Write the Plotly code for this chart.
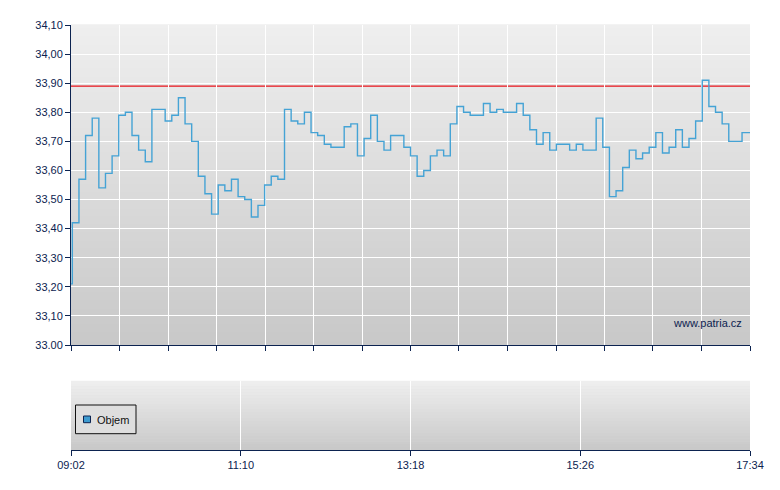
import plotly.graph_objects as go
import pandas as pd

# ---------------- data ----------------
day = "2024-01-01 "
open_times = ["09:02", "09:03"]
open_prices = [33.21, 33.42]
step_start = "09:08"          # then one price every 5 minutes
step_prices = [
    33.57, 33.72, 33.78, 33.54, 33.59, 33.65, 33.79, 33.80, 33.72, 33.67,
    33.63, 33.81, 33.81, 33.77, 33.79, 33.85, 33.76, 33.70, 33.58, 33.52,
    33.45, 33.55, 33.53, 33.57, 33.51, 33.50, 33.44, 33.48, 33.55, 33.58,
    33.57, 33.81, 33.77, 33.76, 33.80, 33.73, 33.72, 33.69, 33.68, 33.68,
    33.75, 33.76, 33.65, 33.71, 33.79, 33.70, 33.67, 33.72, 33.72, 33.68,
    33.65, 33.58, 33.60, 33.65, 33.67, 33.65, 33.76, 33.82, 33.80, 33.79,
    33.79, 33.83, 33.80, 33.81, 33.80, 33.80, 33.83, 33.79, 33.74, 33.69,
    33.73, 33.67, 33.69, 33.69, 33.67, 33.69, 33.67, 33.67, 33.78, 33.68,
    33.51, 33.53, 33.61, 33.67, 33.64, 33.66, 33.68, 33.73, 33.66, 33.68,
    33.74, 33.68, 33.71, 33.77, 33.91, 33.82, 33.80, 33.76, 33.70, 33.70,
    33.73,
]
close_time = "17:34"
ref_price = 33.89
y_tick_vals = [33.00, 33.10, 33.20, 33.30, 33.40, 33.50, 33.60, 33.70, 33.80, 33.90, 34.00, 34.10]
y_tick_text = ["33.00", "33,10", "33,20", "33,30", "33,40", "33,50", "33,60", "33,70",
               "33,80", "33,90", "34,00", "34,10"]
x_label_times = ["09:02", "11:10", "13:18", "15:26", "17:34"]
legend_name = "Objem"
watermark = "www.patria.cz"

# ---------------- build series ----------------
step_times = pd.date_range(day + step_start, periods=len(step_prices), freq="5min")
xs = [pd.Timestamp(day + t) for t in open_times] + list(step_times) + [pd.Timestamp(day + close_time)]
ys = open_prices + step_prices + [step_prices[-1]]

x_start = pd.Timestamp(day + x_label_times[0])
x_end = pd.Timestamp(day + x_label_times[-1])
top_grid = [t.round("s") for t in pd.date_range(x_start, x_end, periods=15)]

NAVY = "#0c2350"
OFF = 8                      # page body margin
W, H = 780 - OFF, 490 - OFF
px = lambda v: (v - OFF) / W
py = lambda v: 1 - (v - OFF) / H

fig = go.Figure()
fig.add_trace(go.Scatter(
    x=xs, y=ys, mode="lines", line=dict(color="#45a3d5", width=1.4, shape="hv"),
    xaxis="x", yaxis="y", showlegend=False, hoverinfo="x+y"))
# empty volume pane trace
fig.add_trace(go.Scatter(x=[x_start, x_end], y=[None, None], mode="lines",
                         xaxis="x2", yaxis="y2", showlegend=False))

shapes = []


def gradient(xref, yref, n, top=(239, 239, 239), bot=(200, 200, 200)):
    for i in range(n):
        f = (i + 0.5) / n
        c = tuple(round(top[j] + (bot[j] - top[j]) * f) for j in range(3))
        shapes.append(dict(type="rect", xref=xref, yref=yref, x0=0, x1=1,
                           y0=1 - (i + 1) / n, y1=1 - i / n + 0.002,
                           fillcolor="rgb(%d,%d,%d)" % c, line=dict(width=0), layer="below"))


gradient("x domain", "y domain", 80)
gradient("x2 domain", "y2 domain", 24)

# reference line
shapes.append(dict(type="line", xref="x domain", yref="y", x0=0, x1=1, y0=ref_price, y1=ref_price,
                   line=dict(color="#e8121a", width=1.2), layer="below"))

# legend box
shapes.append(dict(type="rect", xref="paper", yref="paper", x0=px(75.5), x1=px(136),
                   y0=py(433.7), y1=py(405), fillcolor="#dedede", line=dict(color="#111111", width=1)))
shapes.append(dict(type="rect", xref="paper", yref="paper", x0=px(83.5), x1=px(90.5),
                   y0=py(422.7), y1=py(416), fillcolor="#3d9bd0", line=dict(color="#0c2350", width=1)))

annotations = [
    dict(text=legend_name, xref="paper", yref="paper", x=px(95), y=py(419.5),
         xanchor="left", yanchor="middle", showarrow=False,
         font=dict(family="Liberation Sans, Arial", size=11, color="#111111")),
    dict(text=watermark, xref="paper", yref="paper", x=px(744), y=py(323),
         xanchor="right", yanchor="middle", showarrow=False,
         font=dict(family="Liberation Sans, Arial", size=11, color=NAVY)),
]

fig.update_layout(
    template="none",
    width=W, height=H, autosize=False,
    margin=dict(l=0, r=0, t=0, b=0, pad=0),
    paper_bgcolor="white", plot_bgcolor="#dcdcdc",
    font=dict(family="Liberation Sans, Arial", size=11, color=NAVY),
    showlegend=False,
    shapes=shapes, annotations=annotations,
    xaxis=dict(domain=[px(71), px(750)], anchor="y", type="date", automargin=False,
               range=[x_start, x_end], tickmode="array", tickvals=top_grid,
               showticklabels=False, ticks="outside", ticklen=5, tickcolor=NAVY,
               showgrid=True, gridcolor="white", gridwidth=1,
               showline=True, linecolor=NAVY, linewidth=1, zeroline=False),
    yaxis=dict(domain=[py(345), py(25)], anchor="x", range=[33.0, 34.1], automargin=False,
               tickmode="array", tickvals=y_tick_vals, ticktext=y_tick_text,
               ticks="outside", ticklen=5, tickcolor=NAVY,
               showgrid=True, gridcolor="white", gridwidth=1,
               showline=True, linecolor=NAVY, linewidth=1, zeroline=False,
               tickfont=dict(size=11, color=NAVY)),
    xaxis2=dict(domain=[px(71), px(750)], anchor="y2", type="date", automargin=False,
                range=[x_start, x_end], tickmode="array",
                tickvals=[pd.Timestamp(day + t) for t in x_label_times], ticktext=x_label_times,
                ticks="outside", ticklen=5, tickcolor=NAVY,
                showgrid=True, gridcolor="white", gridwidth=1,
                showline=True, linecolor=NAVY, linewidth=1, zeroline=False,
                tickfont=dict(size=11, color=NAVY)),
    yaxis2=dict(domain=[py(450), py(381)], anchor="x2", range=[0, 1], automargin=False,
                tickmode="array", tickvals=[1], showticklabels=False, ticks="",
                showgrid=True, gridcolor="#f4f4f4", showline=False, zeroline=False),
)

fig.write_html("out.html")
